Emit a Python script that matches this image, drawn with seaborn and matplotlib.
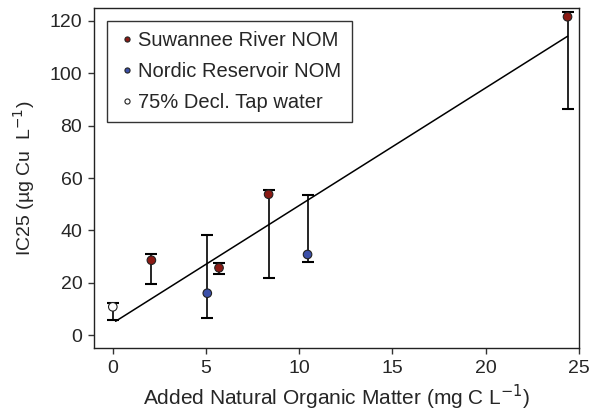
import numpy as np
import pandas as pd
import seaborn as sns
import matplotlib.pyplot as plt

# values
groups = ["Suwannee River NOM", "Nordic Reservoir NOM", "75% Decl. Tap water"]
nom_added = [0.0, 2.07, 5.07, 5.7, 8.36, 10.45, 24.4]
ic25 = [10.8, 28.6, 16.0, 25.7, 53.8, 30.8, 121.6]
ic25_upper = [12.4, 30.8, 38.2, 27.7, 55.3, 53.5, 123.4]
ic25_lower = [5.7, 19.7, 6.5, 23.2, 22.0, 28.0, 86.5]
source = ["75% Decl. Tap water", "Suwannee River NOM", "Nordic Reservoir NOM",
          "Suwannee River NOM", "Suwannee River NOM", "Nordic Reservoir NOM",
          "Suwannee River NOM"]

# linear fit
fit_slope = 4.49
fit_intercept = 4.6
fit_range = [0.15, 24.4]

x_ticks = [0, 5, 10, 15, 20, 25]
y_ticks = [0, 20, 40, 60, 80, 100, 120]

palette = {"Suwannee River NOM": "#8b1a14",
           "Nordic Reservoir NOM": "#3b4fa8",
           "75% Decl. Tap water": "white"}

df = pd.DataFrame({"nom": nom_added, "ic25": ic25, "hi": ic25_upper,
                   "lo": ic25_lower, "source": source})

sns.set_style("ticks")
plt.rcParams['font.family'] = ['Liberation Sans', 'DejaVu Sans']

fig, ax = plt.subplots(figsize=(5.96, 4.15), dpi=100)
fig.subplots_adjust(left=0.158, right=0.971, top=0.981, bottom=0.161)

# error bars
yerr = np.vstack([df["ic25"] - df["lo"], df["hi"] - df["ic25"]])
ax.errorbar(df["nom"], df["ic25"], yerr=yerr, fmt="none", ecolor="black",
            elinewidth=1.2, capsize=4, capthick=1.5, zorder=2)

# fit line
fit_x = np.array(fit_range)
fit_df = pd.DataFrame({"x": fit_x, "y": fit_intercept + fit_slope * fit_x})
sns.lineplot(data=fit_df, x="x", y="y", color="black", linewidth=1.1, ax=ax, zorder=3)

sns.scatterplot(data=df, x="nom", y="ic25", hue="source", hue_order=groups,
                palette=palette, s=38, edgecolor="#222222", linewidth=0.8,
                ax=ax, zorder=4)

ax.set_xlim(-1, 25)
ax.set_ylim(-5, 125)
ax.set_xticks(x_ticks)
ax.set_yticks(y_ticks)
ax.tick_params(labelsize=14, length=4.5, width=1, pad=4, color="#333333")
for sp in ax.spines.values():
    sp.set_linewidth(1.0)
    sp.set_color("#222222")

ax.set_xlabel("Added Natural Organic Matter (mg C L$^{-1}$)", fontsize=15, labelpad=4)
ax.set_ylabel("IC25 (\u00b5g Cu  L$^{-1}$)", fontsize=14, labelpad=9)

leg = ax.legend(loc="upper left", bbox_to_anchor=(0.027, 0.962), borderaxespad=0,
                fontsize=14.5, frameon=True, fancybox=False, handletextpad=0.05,
                handlelength=1.0, borderpad=0.5, labelspacing=0.6,
                markerscale=0.6)
leg.get_frame().set_edgecolor("black")
leg.get_frame().set_linewidth(1.0)

fig.savefig("out.png", dpi=100)
